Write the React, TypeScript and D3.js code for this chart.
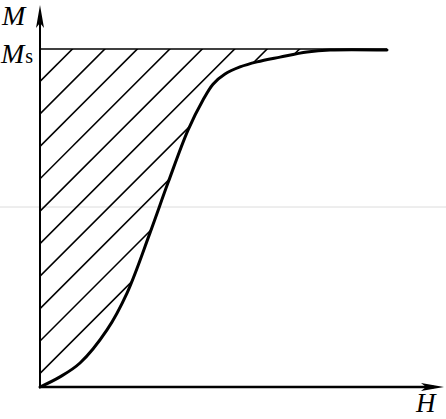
import React from "react";
import * as d3 from "d3";

// Magnetization curve M(H), H in arbitrary units 0..100, M normalised to Ms = 1
const fieldH = [0, 5.71, 11.43, 19.14, 24.86, 31.43, 36.57, 42.29, 46.57, 49.43, 52.86, 57.14, 62.0, 68.57, 76.29, 82.86, 99.14];
const magM = [0, 0.03, 0.071, 0.169, 0.278, 0.456, 0.604, 0.76, 0.849, 0.896, 0.926, 0.947, 0.962, 0.976, 0.991, 0.997, 0.997];
const saturationM = 1;
const hatchStep = 0.096; // spacing of hatching along the M axis
const axisLabels = { y: "M", x: "H", ms: "M", msSub: "s" };

const W = 446;
const H = 419;

export default function App() {
  const x = d3.scaleLinear().domain([0, 100]).range([40, 390]);
  const y = d3.scaleLinear().domain([0, 1]).range([387, 49]);

  const pts: [number, number][] = fieldH.map((h, i) => [h, magM[i]]);
  const line = d3
    .line<[number, number]>()
    .x((d) => x(d[0]))
    .y((d) => y(d[1]))
    .curve(d3.curveCatmullRom.alpha(0.5));
  const curvePath = line(pts) || "";
  const last = pts[pts.length - 1];
  const regionPath =
    curvePath +
    `L${x(last[0])},${y(saturationM)}L${x(0)},${y(saturationM)}Z`;

  const hatchOffsets = d3.range(1, 20).map((k) => saturationM - k * hatchStep).filter((m) => m > 0);
  const L = 500;

  const x0 = x(0);
  const y0 = y(0);
  const yTop = 5;
  const xRight = 444;

  return (
    <svg
      width={W}
      height={H}
      style={{ position: "absolute", left: 0, top: 0, background: "#fff" }}
      fontFamily="'Liberation Serif', 'Times New Roman', serif"
    >
      <rect x={0} y={0} width={W} height={H} fill="#fff" />
      {/* faint scan line */}
      <line x1={0} x2={W} y1={207} y2={207} stroke="#dcdcdc" strokeWidth={1} />
      <defs>
        <clipPath id="region">
          <path d={regionPath} />
        </clipPath>
      </defs>
      <g clipPath="url(#region)">
        {hatchOffsets.map((m, i) => (
          <line
            key={i}
            x1={x0}
            y1={y(m)}
            x2={x0 + L}
            y2={y(m) - L}
            stroke="#000"
            strokeWidth={1.6}
          />
        ))}
      </g>
      {/* Ms line */}
      <line x1={x0} x2={x(last[0])} y1={y(saturationM)} y2={y(saturationM)} stroke="#000" strokeWidth={1.5} />
      {/* curve */}
      <path d={curvePath} fill="none" stroke="#000" strokeWidth={3} strokeLinecap="round" />
      {/* axes */}
      <line x1={x0} x2={x0} y1={y0 + 1} y2={yTop + 10} stroke="#000" strokeWidth={2} />
      <path d={`M${x0},${yTop}L${x0 - 4},${yTop + 23}L${x0},${yTop + 18}L${x0 + 4},${yTop + 23}Z`} fill="#000" />
      <line x1={x0 - 1} x2={xRight - 10} y1={y0} y2={y0} stroke="#000" strokeWidth={2.5} />
      <path d={`M${xRight},${y0}L${xRight - 23},${y0 - 4}L${xRight - 18},${y0}L${xRight - 23},${y0 + 4}Z`} fill="#000" />
      {/* labels */}
      <text x={2} y={25} fontSize={28} fontStyle="italic">{axisLabels.y}</text>
      <text x={1} y={63} fontSize={28} fontStyle="italic">
        {axisLabels.ms}
        <tspan fontStyle="normal" fontSize={20} dx={1}>{axisLabels.msSub}</tspan>
      </text>
      <text x={416} y={412} fontSize={27} fontStyle="italic">{axisLabels.x}</text>
    </svg>
  );
}
